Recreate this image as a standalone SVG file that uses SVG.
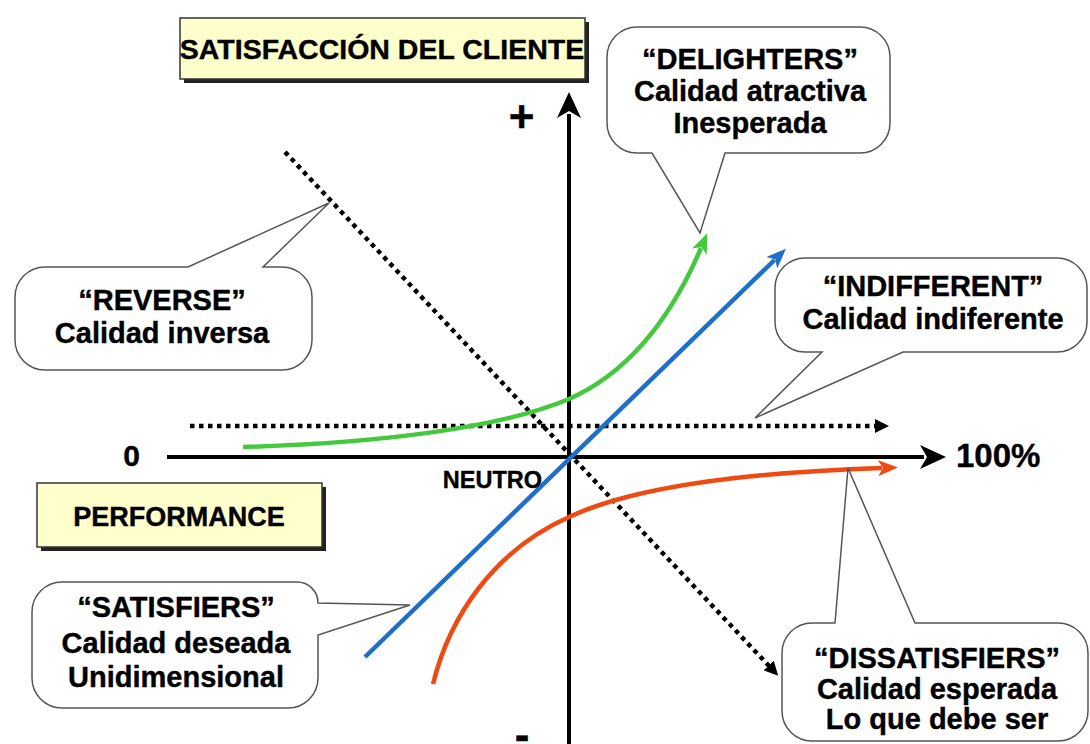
<svg xmlns="http://www.w3.org/2000/svg" width="1090" height="744" viewBox="0 0 1090 744">
<style>
  text { font-family: "Liberation Sans", Arial, sans-serif; font-weight: bold; fill: #000; stroke: #000; stroke-width: 0.4; }
  .cl { font-size: 29px; text-anchor: middle; }
  .bubble { fill: #fff; stroke: #555; stroke-width: 1.5; stroke-linejoin: miter; }
  .ybox { fill: #ffffcc; stroke: #333; stroke-width: 1.5; }
  .yshadow { fill: #222; }
  .axis { stroke: #000; stroke-width: 4; fill: none; }
  .dots { stroke: #000; stroke-width: 4.5; stroke-dasharray: 4.5 4.5; fill: none; }
  .green { stroke: #44c83c; stroke-width: 4.5; fill: none; }
  .blue { stroke: #1f6ec8; stroke-width: 4.5; fill: none; }
  .orange { stroke: #ee4a12; stroke-width: 4.5; fill: none; }
</style>
<defs>
  <marker id="axisHead" viewBox="0 0 26 24" refX="4" refY="12" markerWidth="26" markerHeight="24" markerUnits="userSpaceOnUse" orient="auto">
    <path d="M26,12 L0,0 L7,12 L0,24 Z" fill="#000"/>
  </marker>
  <marker id="dotHead" viewBox="0 0 14 14" refX="2" refY="7" markerWidth="14" markerHeight="14" markerUnits="userSpaceOnUse" orient="auto">
    <path d="M14,7 L0,0 L0,14 Z" fill="#000"/>
  </marker>
  <marker id="greenHead" viewBox="0 0 20 16" refX="4" refY="8" markerWidth="20" markerHeight="16" markerUnits="userSpaceOnUse" orient="auto">
    <path d="M20,8 L0,0 L5,8 L0,16 Z" fill="#44c83c"/>
  </marker>
  <marker id="blueHead" viewBox="0 0 20 16" refX="4" refY="8" markerWidth="20" markerHeight="16" markerUnits="userSpaceOnUse" orient="auto">
    <path d="M20,8 L0,0 L5,8 L0,16 Z" fill="#1f6ec8"/>
  </marker>
  <marker id="orangeHead" viewBox="0 0 20 16" refX="4" refY="8" markerWidth="20" markerHeight="16" markerUnits="userSpaceOnUse" orient="auto">
    <path d="M20,8 L0,0 L5,8 L0,16 Z" fill="#ee4a12"/>
  </marker>
</defs>
<rect width="1090" height="744" fill="#fff"/>

<g id="connectors">
  <line class="axis" x1="569" y1="744" x2="569" y2="114" marker-end="url(#axisHead)"/>
  <line class="axis" x1="167" y1="457" x2="924" y2="457" marker-end="url(#axisHead)"/>
  <line class="dots" x1="190" y1="426" x2="877" y2="426" marker-end="url(#dotHead)"/>
  <line class="dots" x1="285" y1="152" x2="770" y2="667" marker-end="url(#dotHead)"/>
  <path class="green" d="M243,447 C380,443 500,428 569,399 C630,372 672,316 701,248" marker-end="url(#greenHead)"/>
  <line class="blue" x1="365" y1="657" x2="774.5" y2="260" marker-end="url(#blueHead)"/>
  <path class="orange" d="M433,684 C450,615 495,550 569,517 C640,484 760,472 882,468" marker-end="url(#orangeHead)"/>
</g>

<g id="satisfaccion">
  <rect class="yshadow" x="184" y="22" width="405" height="61"/>
  <rect class="ybox" x="180" y="18" width="405" height="61"/>
  <text x="382" y="59" style="font-size:28.5px" text-anchor="middle">SATISFACCIÓN DEL CLIENTE</text>
</g>

<g id="performance">
  <rect class="yshadow" x="41" y="487" width="285" height="64"/>
  <rect class="ybox" x="37" y="483" width="285" height="64"/>
  <text x="179" y="526" style="font-size:27px" text-anchor="middle">PERFORMANCE</text>
</g>

<g id="axis-labels">
  <text x="521.5" y="132" style="font-size:44px" text-anchor="middle">+</text>
  <text x="522" y="750" style="font-size:44px" text-anchor="middle">-</text>
  <text x="131.5" y="466" style="font-size:30px" text-anchor="middle">0</text>
  <text x="956" y="467" style="font-size:33px">100%</text>
  <text x="542" y="488" style="font-size:23.5px" text-anchor="end">NEUTRO</text>
</g>

<g id="delighters">
  <path class="bubble" d="M637,27 H860 A30,30 0 0 1 890,57 V123 A30,30 0 0 1 860,153 H725 L700,233 L652,153 H637 A30,30 0 0 1 607,123 V57 A30,30 0 0 1 637,27 Z"/>
  <text class="cl" x="750" y="69">“DELIGHTERS”</text>
  <text class="cl" x="750" y="101">Calidad atractiva</text>
  <text class="cl" x="750" y="133">Inesperada</text>
</g>

<g id="reverse">
  <path class="bubble" d="M45,267 H188 L329,203 L263,267 H282 A30,30 0 0 1 312,297 V340 A30,30 0 0 1 282,370 H45 A30,30 0 0 1 15,340 V297 A30,30 0 0 1 45,267 Z"/>
  <text class="cl" x="162" y="310">“REVERSE”</text>
  <text class="cl" x="162" y="343">Calidad inversa</text>
</g>

<g id="indifferent">
  <path class="bubble" d="M805,258 H1057 A30,30 0 0 1 1087,288 V322 A30,30 0 0 1 1057,352 H903 L755,418 L822,352 H805 A30,30 0 0 1 775,322 V288 A30,30 0 0 1 805,258 Z"/>
  <text class="cl" x="933" y="296">“INDIFFERENT”</text>
  <text class="cl" x="933" y="329">Calidad indiferente</text>
</g>

<g id="satisfiers">
  <path class="bubble" d="M62,582 H297 A21,21 0 0 1 318,603 L410,605 L318,635 V678 A30,30 0 0 1 288,708 H62 A30,30 0 0 1 32,678 V612 A30,30 0 0 1 62,582 Z"/>
  <text class="cl" x="176" y="617">“SATISFIERS”</text>
  <text class="cl" x="176" y="653">Calidad deseada</text>
  <text class="cl" x="176" y="687">Unidimensional</text>
</g>

<g id="dissatisfiers">
  <path class="bubble" d="M812,623 H835 L848,468 L915,623 H1058 A30,30 0 0 1 1088,653 V711 A30,30 0 0 1 1058,741 H812 A30,30 0 0 1 782,711 V653 A30,30 0 0 1 812,623 Z"/>
  <text class="cl" x="937" y="668">“DISSATISFIERS”</text>
  <text class="cl" x="937" y="699">Calidad esperada</text>
  <text class="cl" x="937" y="729">Lo que debe ser</text>
</g>
</svg>
